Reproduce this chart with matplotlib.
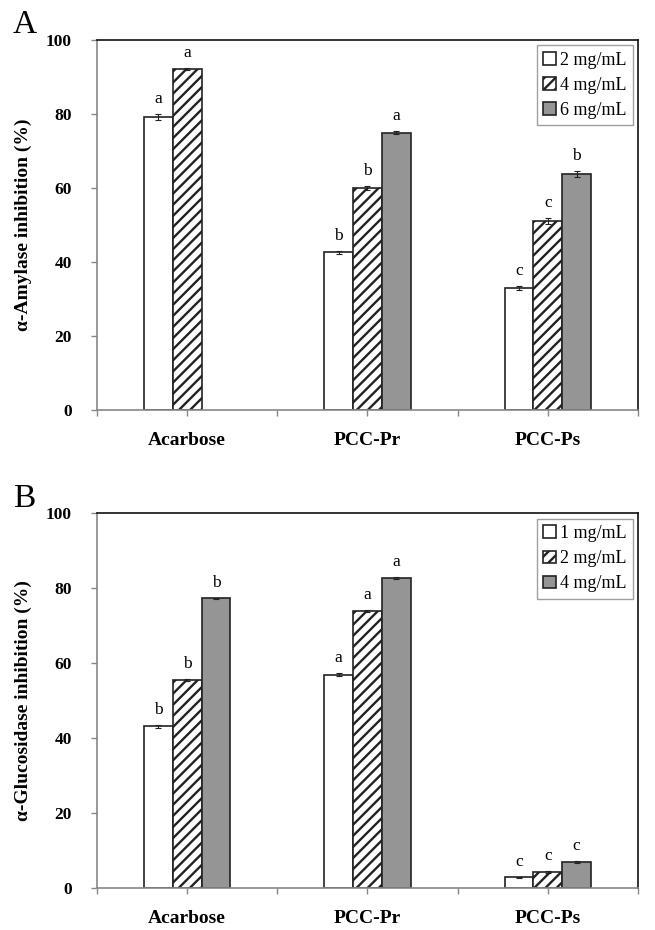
import numpy as np
import matplotlib
matplotlib.use('Agg')
import matplotlib.pyplot as plt

plt.rcParams['font.family'] = ['Liberation Serif', 'DejaVu Serif']
plt.rcParams['hatch.linewidth'] = 1.7

categories = ['Acarbose', 'PCC-Pr', 'PCC-Ps']

# panel A: alpha-amylase
amy_labels = ['2 mg/mL', '4 mg/mL', '6 mg/mL']
amy_2 = [79.2, 42.7, 33.0]
amy_4 = [92.2, 60.0, 51.1]
amy_6 = [np.nan, 75.0, 63.8]
amy_err_2 = [0.8, 0.4, 0.5]
amy_err_4 = [0.3, 0.6, 0.7]
amy_err_6 = [np.nan, 0.3, 0.8]
amy_let_2 = ['a', 'b', 'c']
amy_let_4 = ['a', 'b', 'c']
amy_let_6 = ['', 'a', 'b']

# panel B: alpha-glucosidase
glu_labels = ['1 mg/mL', '2 mg/mL', '4 mg/mL']
glu_1 = [43.2, 56.9, 2.9]
glu_2 = [55.5, 73.9, 4.3]
glu_4 = [77.3, 82.7, 7.0]
glu_err_1 = [0.4, 0.4, 0.2]
glu_err_2 = [0.3, 0.3, 0.2]
glu_err_4 = [0.2, 0.3, 0.2]
glu_let_1 = ['b', 'a', 'c']
glu_let_2 = ['b', 'a', 'c']
glu_let_4 = ['b', 'a', 'c']

gray = '#959595'
styles = [dict(color='white', hatch=None),
          dict(color='white', hatch='///'),
          dict(color=gray, hatch=None)]


def draw_panel(ax, series, errs, letters, labels, ylabel, tag):
    x = np.arange(len(categories))
    w = 0.16
    for i, (vals, err, lets, st) in enumerate(zip(series, errs, letters, styles)):
        pos = x + (i - 1) * w
        ax.bar(pos, vals, w, color=st['color'], hatch=st['hatch'],
               edgecolor='#222222', linewidth=1.2, label=labels[i], zorder=2)
        ax.errorbar(pos, vals, yerr=err, fmt='none', ecolor='#222222',
                    elinewidth=0.8, capsize=2, capthick=0.8, zorder=3)
        for p, v, e, t in zip(pos, vals, err, lets):
            if t and not np.isnan(v):
                ax.annotate(t, (p, v + e), xytext=(0, 5), textcoords='offset points',
                            ha='center', va='bottom', fontsize=12.5)

    ax.set_xlim(-0.5, 2.5)
    ax.set_ylim(0, 100)
    ax.set_yticks([0, 20, 40, 60, 80, 100])
    ax.set_xticks(x)
    ax.set_xticks([-0.5, 0.5, 1.5, 2.5], minor=True)
    ax.set_xticklabels(categories, fontsize=14, fontweight='bold')
    for lab in ax.get_yticklabels():
        lab.set_fontweight('bold')
        lab.set_fontsize(12.5)
    ax.tick_params(axis='both', which='both', direction='out', length=4,
                   color='#888888', width=1)
    ax.tick_params(axis='x', which='major', pad=12)
    ax.tick_params(axis='y', pad=14)
    ax.spines['left'].set_color('#888888')
    ax.spines['bottom'].set_color('#888888')
    ax.spines['top'].set_color('#111111')
    ax.spines['right'].set_color('#111111')
    for s in ax.spines.values():
        s.set_linewidth(1.2)
    ax.set_ylabel(ylabel, fontsize=14, fontweight='bold', labelpad=10)
    leg = ax.legend(loc='upper right', fontsize=13, frameon=True, fancybox=False,
                    edgecolor='#888888', handlelength=0.7, handleheight=0.7,
                    handletextpad=0.2, borderpad=0.35, labelspacing=0.45,
                    borderaxespad=0.3, bbox_to_anchor=(1.0, 1.0))
    leg.get_frame().set_linewidth(1)
    ax.text(-0.155, 1.04, tag, transform=ax.transAxes, fontsize=24,
            ha='left', va='center')


fig = plt.figure(figsize=(6.55, 9.3), dpi=100)
ax1 = fig.add_axes([0.148, 0.559, 0.826, 0.398])
ax2 = fig.add_axes([0.148, 0.045, 0.826, 0.403])

draw_panel(ax1, [amy_2, amy_4, amy_6], [amy_err_2, amy_err_4, amy_err_6],
           [amy_let_2, amy_let_4, amy_let_6], amy_labels,
           'α-Amylase inhibition (%)', 'A')
draw_panel(ax2, [glu_1, glu_2, glu_4], [glu_err_1, glu_err_2, glu_err_4],
           [glu_let_1, glu_let_2, glu_let_4], glu_labels,
           'α-Glucosidase inhibition (%)', 'B')

fig.savefig('out.png', dpi=100)
